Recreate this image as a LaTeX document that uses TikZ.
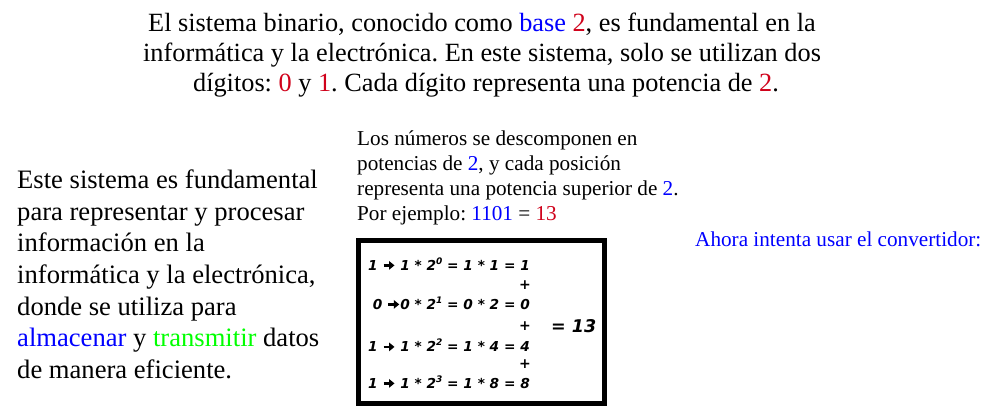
\documentclass[tikz,border=0pt]{standalone}
\usepackage{fontspec}
\usetikzlibrary{arrows.meta}
\setmainfont{Liberation Serif}
\newfontfamily\boxfont{DejaVu Sans}
\definecolor{tblue}{RGB}{0,0,255}
\definecolor{tred}{RGB}{208,2,27}
\definecolor{tgreen}{RGB}{0,255,0}
\newcommand{\sq}[1]{\raisebox{0.42em}{\fontsize{9}{10}\selectfont #1}}
\newcommand{\arr}{\tikz[baseline=0pt,x=1pt,y=1pt]\draw[line width=2.3pt,-{Triangle[length=5.5pt,width=8.5pt]}] (0,4.6) -- (11,4.6);}
\frenchspacing
\begin{document}
\begin{tikzpicture}[x=1pt,y=-1pt,
  toptxt/.style={inner sep=0pt,anchor=base,font=\fontsize{26.3}{30}\selectfont},
  lefttxt/.style={inner sep=0pt,anchor=base west,font=\fontsize{26.6}{30}\selectfont},
  midtxt/.style={inner sep=0pt,anchor=base west,font=\fontsize{21.2}{24}\selectfont},
  rowtxt/.style={inner sep=0pt,anchor=base east,font=\boxfont\bfseries\itshape\fontsize{13.7}{16}\selectfont},
  plustxt/.style={inner sep=0pt,anchor=center,font=\boxfont\bfseries\fontsize{14}{16}\selectfont},
  frame/.style={draw=black,line width=4.5pt}]
\useasboundingbox (0,0) rectangle (990,409);
\fill[white] (0,0) rectangle (990,409);
% top paragraph
\node[toptxt] (t1) at (482,32) {El sistema binario, conocido como \textcolor{tblue}{base} \textcolor{tred}{2}, es fundamental en la};
\node[toptxt] (t2) at (482,62) {informática y la electrónica. En este sistema, solo se utilizan dos};
\node[toptxt] (t3) at (486,92) {dígitos: \textcolor{tred}{0} y \textcolor{tred}{1}. Cada dígito representa una potencia de \textcolor{tred}{2}.};
% left paragraph
\node[lefttxt] (l1) at (17,188.3) {Este sistema es fundamental};
\node[lefttxt] (l2) at (17,220) {para representar y procesar};
\node[lefttxt] (l3) at (17,251.7) {información en la};
\node[lefttxt] (l4) at (17,283.3) {informática y la electrónica,};
\node[lefttxt] (l5) at (17,315) {donde se utiliza para};
\node[lefttxt] (l6) at (17,346.7) {\textcolor{tblue}{almacenar} y \textcolor{tgreen}{transmitir} datos};
\node[lefttxt] (l7) at (17,378.3) {de manera eficiente.};
% middle paragraph
\node[midtxt] (m1) at (357,145.7) {Los números se descomponen en};
\node[midtxt] (m2) at (357,170.5) {potencias de \textcolor{tblue}{2}, y cada posición};
\node[midtxt] (m3) at (357,195.3) {representa una potencia superior de \textcolor{tblue}{2}.};
\node[midtxt] (m4) at (357,220) {Por ejemplo: \textcolor{tblue}{1101} = \textcolor{tred}{13}};
% right text
\node[midtxt,text=tblue] (r1) at (695,246) {Ahora intenta usar el convertidor:};
% box
\draw[frame] (358.5,240.5) rectangle (604.5,403.7);
\node[rowtxt] (b1) at (530,270) {1 \arr{} 1 * 2\sq{0} = 1 * 1 = 1};
\node[rowtxt] (b2) at (530,309) {0 \arr{}0 * 2\sq{1} = 0 * 2 = 0};
\node[rowtxt] (b3) at (530,351.5) {1 \arr{} 1 * 2\sq{2} = 1 * 4 = 4};
\node[rowtxt] (b4) at (530,388) {1 \arr{} 1 * 2\sq{3} = 1 * 8 = 8};
\node[plustxt] (p1) at (525,285.5) {+};
\node[plustxt] (p2) at (525,326) {+};
\node[plustxt] (p3) at (525,364.5) {+};
\node[inner sep=0pt,anchor=base west,font=\boxfont\bfseries\itshape\fontsize{17.5}{22}\selectfont] (eq) at (551,332) {= 13};
\end{tikzpicture}
\end{document}
